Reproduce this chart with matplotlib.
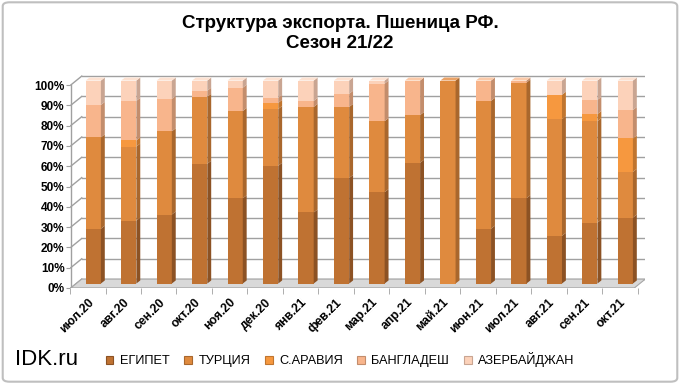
import matplotlib
matplotlib.use('Agg')
import matplotlib.pyplot as plt
from matplotlib.patches import Polygon, Patch, FancyBboxPatch

plt.rcParams['font.family'] = ['Liberation Sans', 'DejaVu Sans']

months = ['июл.20', 'авг.20', 'сен.20', 'окт.20', 'ноя.20', 'дек.20', 'янв.21', 'фев.21',
          'мар.21', 'апр.21', 'май.21', 'июн.21', 'июл.21', 'авг.21', 'сен.21', 'окт.21']
egypt      = [27, 31, 34, 59, 42, 58, 35, 52, 45, 59.5, 0, 27, 42, 23.5, 30, 32.5]
turkey     = [45, 36.5, 41, 33, 43, 28, 52, 35, 35, 23.5, 100, 63, 57, 57.5, 50, 22.5]
s_arabia   = [0, 3, 0, 0, 0, 3, 0, 0, 0, 0, 0, 0, 0, 12, 3.5, 16.5]
bangladesh = [16, 19.5, 16, 3, 11.5, 2.5, 3, 6.5, 18.5, 17, 0, 10, 1, 0, 7, 14]
azerbaijan = [12, 10, 9, 5, 3.5, 8.5, 10, 6.5, 1.5, 0, 0, 0, 0, 7, 9.5, 14.5]

names = ['ЕГИПЕТ', 'ТУРЦИЯ', 'С.АРАВИЯ', 'БАНГЛАДЕШ', 'АЗЕРБАЙДЖАН']
series = [egypt, turkey, s_arabia, bangladesh, azerbaijan]
front = ['#bf7232', '#df8a3e', '#f6983f', '#f8b58c', '#fcd2ba']
side = ['#8c5224', '#a9672d', '#c0752f', '#c38d6c', '#c9a592']
top = ['#d08a50', '#eaa266', '#f9b26c', '#fbcaa9', '#fde2d2']

fig = plt.figure(figsize=(6.8, 3.84), dpi=100)
ax = fig.add_axes([0.103, 0.25, 0.846, 0.555])

# псевдо-3D: глубина стенок и смещение столбцов
DX, DY = 0.31, 4.4
bdx, bdy = 0.155, 2.2
w = 0.43
sdx, sdy = 0.11, 1.5
xl, xr = -0.48, 15.41

# пол
ax.add_patch(Polygon([(xl, 0), (xr, 0), (xr + DX, DY), (xl + DX, DY)],
                     closed=True, fc='#d9d9d9', ec='#a6a6a6', lw=0.8, zorder=1))
# сетка на задней и левой стенке
for v in range(0, 101, 10):
    ax.plot([xl + DX, xr + DX], [v + DY, v + DY], color='#a0a0a0', lw=1, zorder=0.5)
    ax.plot([xl, xl + DX], [v, v + DY], color='#a0a0a0', lw=1, zorder=0.5)
ax.plot([xl, xl], [0, 100], color='#a0a0a0', lw=1, zorder=0.6)

# столбцы
for i in range(len(months)):
    base = 0
    x0 = i + bdx - w / 2
    x1 = i + bdx + w / 2
    last = None
    for k, s in enumerate(series):
        h = s[i]
        if h <= 0:
            continue
        y0 = base + bdy
        y1 = base + h + bdy
        ax.add_patch(Polygon([(x0, y0), (x1, y0), (x1, y1), (x0, y1)], closed=True,
                             fc=front[k], ec='none', zorder=3))
        ax.add_patch(Polygon([(x1, y0), (x1 + sdx, y0 + sdy), (x1 + sdx, y1 + sdy), (x1, y1)],
                             closed=True, fc=side[k], ec='none', zorder=3))
        base += h
        last = k
    yt = base + bdy
    ax.add_patch(Polygon([(x0, yt), (x1, yt), (x1 + sdx, yt + sdy), (x0 + sdx, yt + sdy)],
                         closed=True, fc=top[last], ec='none', zorder=3))

ax.set_xlim(xl, xr + DX)
ax.set_ylim(0, 105)
for sp in ax.spines.values():
    sp.set_visible(False)
ax.plot([xl, xr], [0, 0], color='#a0a0a0', lw=1, zorder=2)

ax.set_yticks(range(0, 101, 10))
ax.set_yticklabels([f'{v}%' for v in range(0, 101, 10)], fontsize=8.5, fontweight='bold')
ax.tick_params(axis='y', length=3, color='#a0a0a0', pad=1)
ax.set_xticks(range(len(months)))
ax.set_xticklabels(months, rotation=45, ha='right', rotation_mode='anchor',
                   fontsize=8.8, fontweight='bold')
ax.tick_params(axis='x', length=0, pad=6)
ax.set_xticks([i - 0.5 for i in range(len(months) + 1)], minor=True)
ax.tick_params(axis='x', which='minor', length=4, color='#a0a0a0')

fig.suptitle('Структура экспорта. Пшеница РФ.\nСезон 21/22', y=0.962,
             fontsize=13.5, fontweight='bold', linespacing=1.25)

handles = [Patch(fc=front[k], ec=side[k], lw=0.8) for k in range(5)]
fig.legend(handles, names, loc='center', bbox_to_anchor=(0.5, 0.063), ncol=5,
           frameon=False, fontsize=9.2, handlelength=0.6, handleheight=0.6,
           handletextpad=0.5, columnspacing=1.15)
fig.text(0.022, 0.063, 'IDK.ru', fontsize=16, va='center', ha='left')

fig.patches.append(FancyBboxPatch((0.004, 0.006), 0.992, 0.988, boxstyle='round,pad=0,rounding_size=0.01',
                                  transform=fig.transFigure, fc='none', ec='#bfbfbf', lw=1.5))

fig.savefig('out.png', dpi=100)
